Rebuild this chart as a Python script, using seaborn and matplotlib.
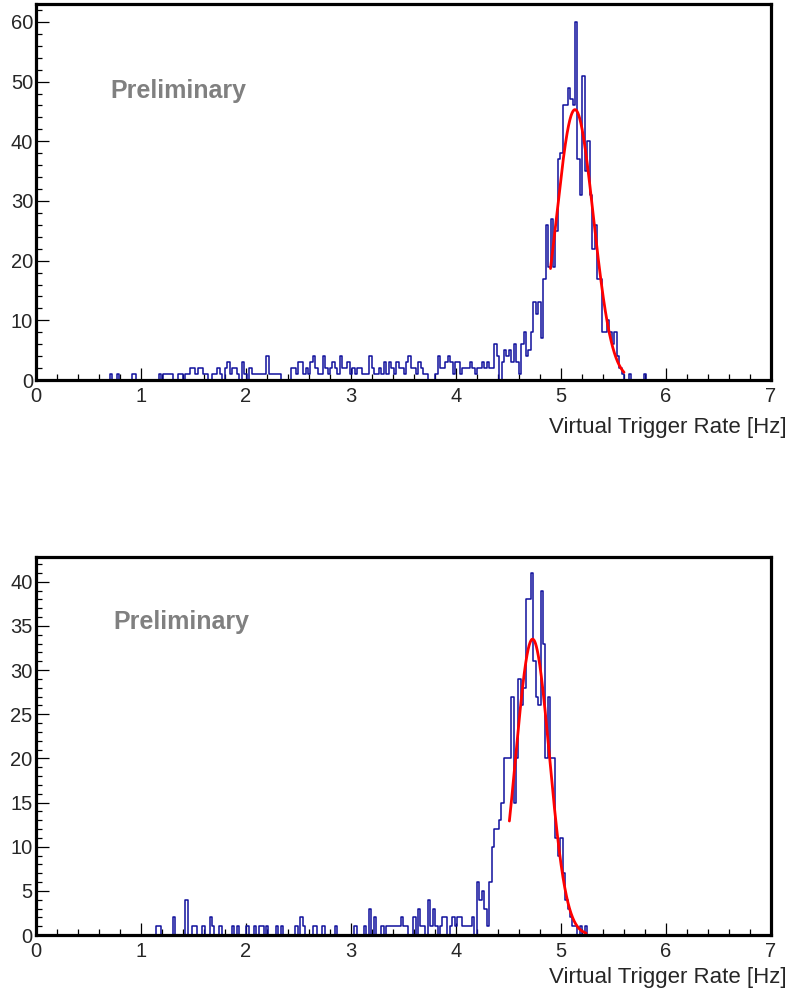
import numpy as np
import pandas as pd
import matplotlib
matplotlib.use("Agg")
import matplotlib.pyplot as plt
import seaborn as sns
from matplotlib.ticker import MultipleLocator

# Binning of both rate histograms: 300 bins over 0-7 Hz
n_bins = 300
rate_range = [0.0, 7.0]

# Entries per bin, upper run (20 bins per row)
upper_counts = [
    0, 0, 0, 0, 0, 0, 0, 0, 0, 0, 0, 0, 0, 0, 0, 0, 0, 0, 0, 0,
    0, 0, 0, 0, 0, 0, 0, 0, 0, 0, 1, 0, 0, 1, 0, 0, 0, 0, 0, 1,
    1, 0, 0, 0, 0, 0, 0, 0, 0, 0, 1, 0, 1, 1, 1, 1, 0, 0, 1, 1,
    0, 1, 1, 2, 2, 1, 2, 2, 1, 1, 0, 0, 1, 1, 2, 1, 0, 2, 3, 1,
    2, 2, 1, 0, 3, 1, 0, 2, 1, 1, 1, 1, 1, 1, 4, 1, 1, 1, 1, 1,
    0, 0, 0, 0, 2, 2, 1, 3, 3, 1, 2, 1, 3, 4, 2, 1, 1, 4, 2, 1,
    2, 3, 2, 1, 4, 2, 2, 3, 1, 2, 1, 2, 2, 1, 1, 1, 4, 2, 1, 1,
    2, 1, 3, 1, 3, 2, 1, 3, 2, 2, 1, 3, 4, 2, 2, 1, 3, 2, 1, 1,
    0, 0, 0, 1, 4, 2, 2, 3, 4, 3, 1, 3, 3, 1, 2, 2, 2, 3, 2, 1,
    2, 2, 3, 2, 3, 2, 2, 6, 4, 0, 3, 5, 4, 5, 3, 6, 3, 1, 6, 8,
    4, 5, 8, 13, 11, 13, 7, 17, 26, 19, 27, 19, 25, 37, 38, 46, 46, 49, 47, 46,
    60, 37, 31, 51, 35, 40, 31, 22, 26, 17, 17, 8, 8, 10, 8, 6, 8, 4, 2, 1,
    0, 0, 1, 0, 0, 0, 0, 0, 1, 0, 0, 0, 0, 0, 0, 0, 0, 0, 0, 0,
    0, 0, 0, 0, 0, 0, 0, 0, 0, 0, 0, 0, 0, 0, 0, 0, 0, 0, 0, 0,
    0, 0, 0, 0, 0, 0, 0, 0, 0, 0, 0, 0, 0, 0, 0, 0, 0, 0, 0, 0,
]

# Entries per bin, lower run (20 bins per row)
lower_counts = [
    0, 0, 0, 0, 0, 0, 0, 0, 0, 0, 0, 0, 0, 0, 0, 0, 0, 0, 0, 0,
    0, 0, 0, 0, 0, 0, 0, 0, 0, 0, 0, 0, 0, 0, 0, 0, 0, 0, 0, 0,
    0, 0, 0, 0, 0, 0, 0, 0, 0, 1, 1, 0, 0, 0, 0, 0, 2, 0, 0, 0,
    0, 4, 0, 0, 1, 1, 0, 0, 1, 0, 0, 2, 1, 0, 0, 1, 0, 0, 0, 0,
    1, 0, 1, 0, 0, 0, 1, 0, 0, 1, 0, 1, 1, 0, 1, 0, 0, 0, 1, 0,
    1, 0, 0, 0, 0, 0, 1, 0, 2, 1, 0, 0, 0, 1, 1, 0, 0, 1, 0, 0,
    0, 0, 1, 0, 0, 0, 0, 0, 0, 0, 1, 0, 0, 0, 1, 0, 3, 0, 2, 0,
    0, 1, 0, 1, 1, 1, 1, 1, 1, 2, 1, 1, 0, 0, 2, 0, 3, 1, 1, 0,
    4, 1, 3, 1, 0, 1, 2, 2, 0, 1, 2, 1, 2, 2, 1, 1, 1, 1, 2, 0,
    6, 4, 5, 3, 1, 6, 10, 12, 12, 13, 15, 20, 20, 20, 27, 15, 20, 29, 26, 28,
    38, 38, 41, 31, 27, 26, 39, 33, 20, 27, 20, 20, 11, 9, 11, 7, 4, 3, 2, 1,
    1, 0, 1, 0, 1, 0, 0, 0, 0, 0, 0, 0, 0, 0, 0, 0, 0, 0, 0, 0,
    0, 0, 0, 0, 0, 0, 0, 0, 0, 0, 0, 0, 0, 0, 0, 0, 0, 0, 0, 0,
    0, 0, 0, 0, 0, 0, 0, 0, 0, 0, 0, 0, 0, 0, 0, 0, 0, 0, 0, 0,
    0, 0, 0, 0, 0, 0, 0, 0, 0, 0, 0, 0, 0, 0, 0, 0, 0, 0, 0, 0,
]

# Gaussian fits: [amplitude, mean (Hz), sigma (Hz)] and fit window (Hz)
upper_fit_params = [45.3, 5.133, 0.175]
upper_fit_window = [4.90, 5.60]
lower_fit_params = [33.5, 4.731, 0.160]
lower_fit_window = [4.51, 5.24]

x_ticks = [0, 1, 2, 3, 4, 5, 6, 7]
x_title = "Virtual Trigger Rate [Hz]"
stamp_text = "Preliminary"

sns.set_style("white")
plt.rcParams["font.family"] = ["Liberation Sans", "DejaVu Sans"]

W, H = 790, 996
fig = plt.figure(figsize=(W / 100, H / 100), dpi=100)


def px_axes(left, top, right, bottom):
    return fig.add_axes([left / W, 1 - bottom / H, (right - left) / W, (bottom - top) / H])


def gaussian(x, amp, mu, sig):
    return amp * np.exp(-0.5 * ((x - mu) / sig) ** 2)


def draw_panel(ax, counts, fit_params, fit_window, y_top, y_major, y_minor):
    width = (rate_range[1] - rate_range[0]) / n_bins
    centers = rate_range[0] + width * (np.arange(n_bins) + 0.5)
    frame = pd.DataFrame({"rate": centers, "entries": counts})
    sns.histplot(data=frame, x="rate", weights="entries", bins=n_bins,
                 binrange=rate_range, element="step", fill=False,
                 color="#0f0f9c", linewidth=1.1, ax=ax)

    xs = np.linspace(fit_window[0], fit_window[1], 400)
    sns.lineplot(x=xs, y=gaussian(xs, *fit_params), color="#ff0000",
                 linewidth=2.0, ax=ax, zorder=4)

    ax.set_xlim(rate_range)
    ax.set_ylim(0, y_top)
    ax.set_xlabel("")
    ax.set_ylabel("")
    ax.set_xticks(x_ticks)
    ax.xaxis.set_minor_locator(MultipleLocator(0.2))
    ax.yaxis.set_major_locator(MultipleLocator(y_major))
    ax.yaxis.set_minor_locator(MultipleLocator(y_minor))
    ax.tick_params(which="both", direction="in", top=False, right=False,
                   bottom=True, left=True, width=0.9, color="black")
    ax.tick_params(which="major", length=9)
    ax.tick_params(which="minor", length=4.5)
    ax.tick_params(axis="x", which="major", labelsize=14.5, pad=5)
    ax.tick_params(axis="y", which="major", labelsize=14.5, pad=2)
    for sp in ax.spines.values():
        sp.set_visible(True)
        sp.set_linewidth(2.3)
        sp.set_color("black")
        sp.set_zorder(5)
    ax.grid(False)


ax_up = px_axes(36, 4, 771, 380)
draw_panel(ax_up, upper_counts, upper_fit_params, upper_fit_window, 63.0, 10, 2)

ax_lo = px_axes(35.5, 557, 771, 935)
draw_panel(ax_lo, lower_counts, lower_fit_params, lower_fit_window, 42.8, 5, 1)

# Axis titles, right-aligned under each panel
fig.text(787 / W, 1 - 433 / H, x_title, ha="right", va="baseline", fontsize=16)
fig.text(787 / W, 1 - 983 / H, x_title, ha="right", va="baseline", fontsize=16)

# Preliminary stamps
fig.text(110 / W, 1 - 98 / H, stamp_text, ha="left", va="baseline",
         fontsize=18, fontweight="bold", color="#808080")
fig.text(113 / W, 1 - 629 / H, stamp_text, ha="left", va="baseline",
         fontsize=18, fontweight="bold", color="#808080")

fig.savefig("out.png", dpi=100)
